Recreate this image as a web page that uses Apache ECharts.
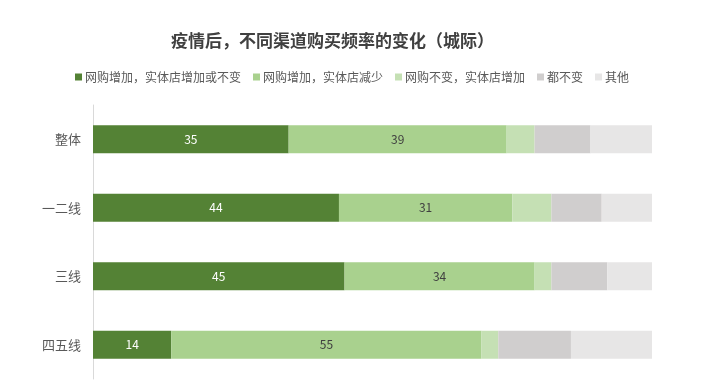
<!DOCTYPE html>
<html><head><meta charset="utf-8">
<script src="https://cdn.jsdelivr.net/npm/echarts@6/dist/echarts.min.js"></script>
<style>html,body{margin:0;padding:0;background:#fff}#c{width:703px;height:392px}</style>
</head><body><div id="c"></div>
<script>
const categories = ['整体', '一二线', '三线', '四五线'];
const seriesNames = ['网购增加，实体店增加或不变', '网购增加，实体店减少', '网购不变，实体店增加', '都不变', '其他'];
const s1 = [35, 44, 45, 14];
const s2 = [39, 31, 34, 55.5];
const s3 = [5, 7, 3, 3];
const s4 = [10, 9, 10, 13];
const s5 = [11, 9, 8, 14.5];
const values = [s1, s2, s3, s4, s5];
const colors = ['#548235', '#A9D18E', '#C5E0B4', '#D0CECE', '#E7E6E6'];
const showLabel = [true, true, false, false, false];
const labelColors = ['#ffffff', '#404040', '#404040', '#404040', '#404040'];
const font = '"Microsoft YaHei","Noto Sans CJK SC",sans-serif';

const chart = echarts.init(document.getElementById('c'));
chart.setOption({
  animation: false,
  backgroundColor: '#fff',
  title: {
    text: '疫情后，不同渠道购买频率的变化（城际）',
    left: 166, top: 27,
    textStyle: {fontSize: 17, fontWeight: 'bold', color: '#404040', fontFamily: font}
  },
  legend: {
    top: 66, left: 70,
    itemWidth: 7, itemHeight: 7, itemGap: 12,
    icon: 'rect',
    textStyle: {fontSize: 12, color: '#595959', fontFamily: font, padding: [0,0,0,-2]},
    data: seriesNames
  },
  grid: {left: 93, right: 51, top: 105, bottom: 13, containLabel: false},
  xAxis: {type: 'value', min: 0, max: 100, show: false},
  yAxis: {
    type: 'category', data: categories, inverse: true,
    axisLine: {show: true, lineStyle: {color: '#D9D9D9'}},
    axisTick: {show: false},
    axisLabel: {fontSize: 13, color: '#595959', margin: 12, fontFamily: font}
  },
  series: values.map((v, i) => ({
    name: seriesNames[i], type: 'bar', stack: 'a', data: v,
    barWidth: 28,
    itemStyle: {color: colors[i]},
    label: {show: showLabel[i], position: 'inside', color: labelColors[i], fontSize: 12, fontFamily: font,
      formatter: p => String(Math.floor(p.value))}
  }))
});
</script></body></html>
